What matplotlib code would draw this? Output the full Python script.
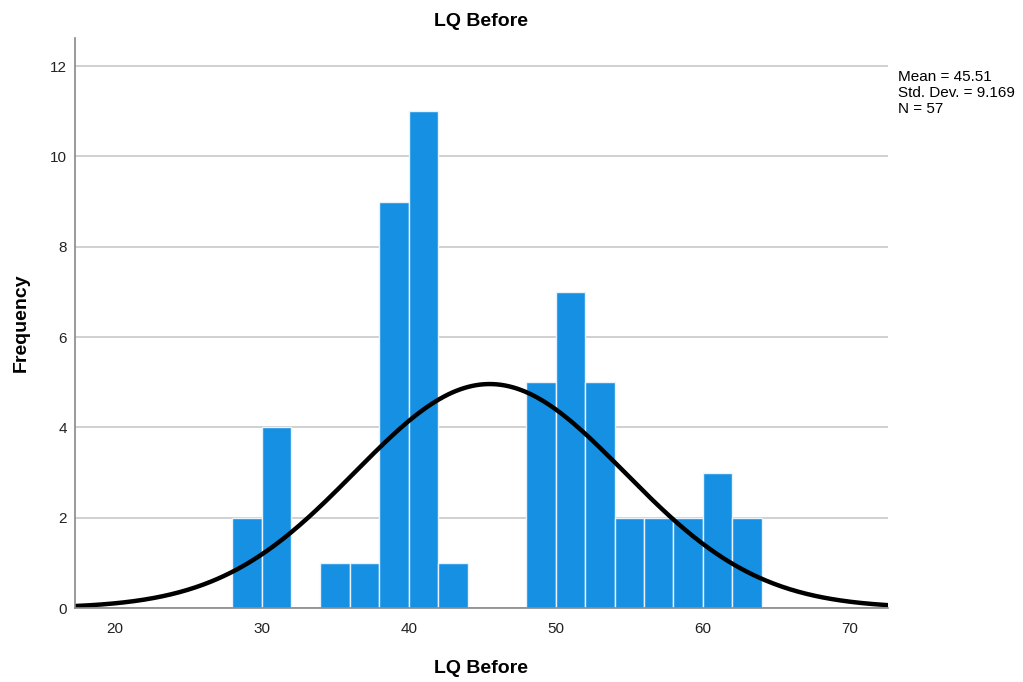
import numpy as np
import matplotlib.pyplot as plt

# histogram of LQ Before scores, bin width 2
bin_left = [28, 30, 34, 36, 38, 40, 42, 48, 50, 52, 54, 56, 58, 60, 62]
counts = [2, 4, 1, 1, 9, 11, 1, 5, 7, 5, 2, 2, 2, 3, 2]
bin_width = 2
mean = 45.51
std = 9.169
n = 57

fig = plt.figure(figsize=(10.23, 6.82), dpi=100)
ax = fig.add_axes([0.0733, 0.1085, 0.7947, 0.8355])

ax.yaxis.grid(True, color="#c8c8c8", linewidth=1.2, zorder=0)
ax.bar(bin_left, counts, width=bin_width, align="edge", color="#1590e3",
       edgecolor="#e8f2fb", linewidth=1.0, zorder=2)

# fitted normal curve scaled to counts
xs = np.linspace(17.3, 72.6, 400)
ys = n * bin_width / (std * np.sqrt(2 * np.pi)) * np.exp(-0.5 * ((xs - mean) / std) ** 2)
ax.plot(xs, ys, color="black", linewidth=3.2, zorder=3, solid_capstyle="round")

ax.set_xlim(17.3, 72.6)
ax.set_ylim(0, 12.62)
ax.set_xticks([20, 30, 40, 50, 60, 70])
ax.set_yticks([0, 2, 4, 6, 8, 10, 12])
ax.tick_params(length=0, labelsize=11, colors="#222222", pad=10)
ax.tick_params(axis="y", pad=6)

for side in ["top", "right"]:
    ax.spines[side].set_visible(False)
for side in ["left", "bottom"]:
    ax.spines[side].set_color("#888888")
    ax.spines[side].set_linewidth(1.2)
ax.spines["left"].set_zorder(4)
ax.spines["bottom"].set_zorder(4)

ax.set_title("LQ Before", fontsize=14, fontweight="bold", pad=9, family="Liberation Sans")
ax.set_xlabel("LQ Before", fontsize=14, fontweight="bold", labelpad=17, family="Liberation Sans")
ax.set_ylabel("Frequency", fontsize=14, fontweight="bold", labelpad=14, family="Liberation Sans")
for lbl in ax.get_xticklabels() + ax.get_yticklabels():
    lbl.set_family("Liberation Sans")

fig.text(0.878, 0.897, "Mean = %.2f\nStd. Dev. = %.3f\nN = %d" % (mean, std, n),
         fontsize=11, family="Liberation Sans", va="top", ha="left", linespacing=1.15)

fig.savefig("out.png", dpi=100)
